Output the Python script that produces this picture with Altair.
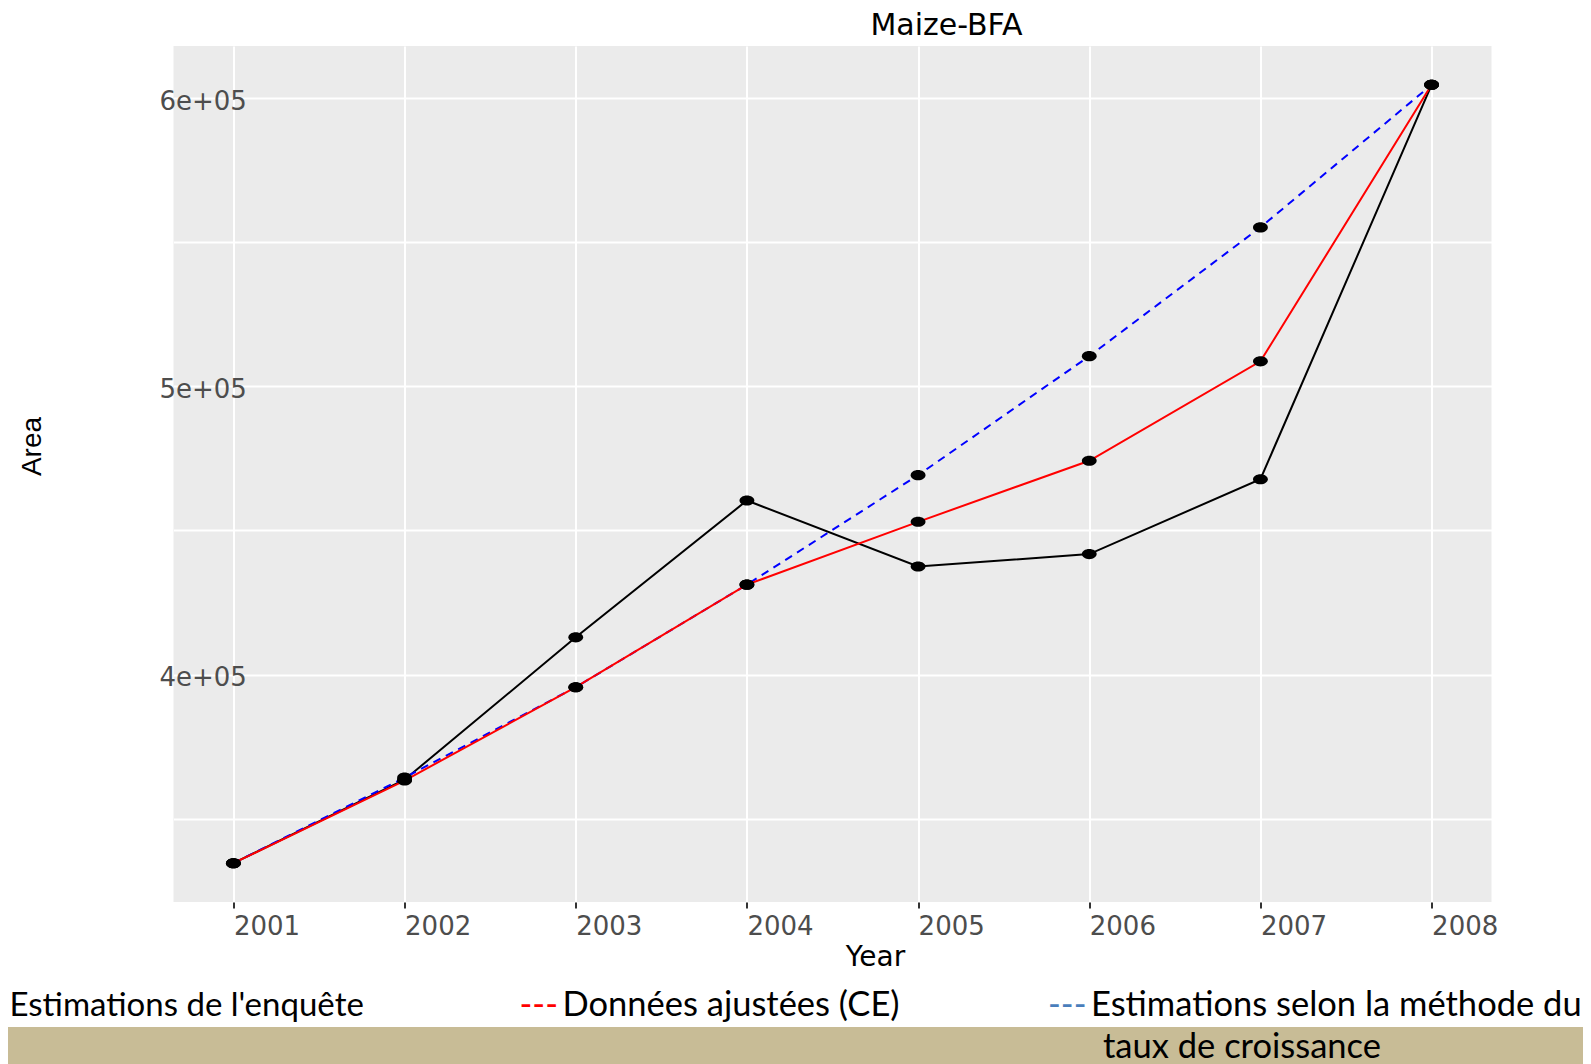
import altair as alt
import pandas as pd

years = [2001, 2002, 2003, 2004, 2005, 2006, 2007, 2008]
survey = [334500, 363500, 412900, 460400, 437500, 441800, 467800, 604700]
adjusted = [334500, 363200, 395600, 431200, 453000, 474200, 508700, 604700]
growth = [334500, 364200, 395600, 431200, 469200, 510500, 555200, 604700]

x_grid = [2001, 2001.5, 2002, 2002.5, 2003, 2003.5, 2004, 2004.5, 2005, 2005.5,
          2006, 2006.5, 2007, 2007.5, 2008]
y_grid = [350000, 400000, 450000, 500000, 550000, 600000]

legend_texts = ["Estimations de l'enquête", "Données ajustées (CE)",
                "Estimations selon la méthode du", "taux de croissance"]

frames = []
for name, vals in [("survey", survey), ("adjusted", adjusted), ("growth", growth)]:
    frames.append(pd.DataFrame({"year": years, "value": vals, "series": name}))
df = pd.concat(frames, ignore_index=True)

xs = alt.Scale(domain=[2000.65, 2008.35], nice=False, zero=False)
ys = alt.Scale(domain=[321040, 618160], nice=False, zero=False)

x_axis = alt.Axis(
    values=x_grid, grid=True, gridColor="white", gridWidth=2, domain=False,
    tickColor={"condition": {"test": "datum.value % 1 === 0", "value": "#333333"},
               "value": "transparent"},
    tickSize=6, tickWidth=2, format="d",
    labelExpr="datum.value % 1 === 0 ? datum.label : ''",
    labelAlign="left", labelBaseline="top", labelPadding=5,
    labelFont="DejaVu Sans", labelFontSize=26, labelColor="#4D4D4D",
    labelOverlap=False, labelFlush=False,
    title="Year", titleFont="DejaVu Sans", titleFontSize=28, titleColor="black",
    titleFontWeight="normal", titleX=701.5, titleY=55, titleAlign="center",
    titleBaseline="middle",
)
y_axis = alt.Axis(
    values=y_grid, grid=True, gridColor="white", gridWidth=2, domain=False,
    ticks=False, tickSize=0,
    labelExpr="datum.value % 100000 === 0 ? format(datum.value / 100000, 'd') + 'e+05' : ''",
    labelAlign="left", labelBaseline="middle", labelPadding=14.5, labelOffset=3,
    labelFont="DejaVu Sans", labelFontSize=26, labelColor="#4D4D4D",
    labelOverlap=False, labelFlush=False,
    title="Area", titleFont="Liberation Sans", titleFontSize=28, titleColor="black",
    titleFontWeight="normal", titleX=-141, titleY=400, titleAlign="center",
    titleBaseline="middle",
)

base = alt.Chart(df).encode(
    x=alt.X("year:Q", scale=xs, axis=x_axis),
    y=alt.Y("value:Q", scale=ys, axis=y_axis),
)

line_black = base.transform_filter(alt.datum.series == "survey").mark_line(
    color="black", strokeWidth=2)
line_blue = base.transform_filter(alt.datum.series == "growth").mark_line(
    color="#0000FF", strokeWidth=2, strokeDash=[8, 6])
line_red = base.transform_filter(alt.datum.series == "adjusted").mark_line(
    color="#FF0000", strokeWidth=2)

ellipse = "M -1 0 A 1 0.68 0 1 0 1 0 A 1 0.68 0 1 0 -1 0 Z"
points = base.mark_point(shape=ellipse, filled=True, color="black", opacity=1, size=220)

deco = pd.DataFrame({"a": [0]})
band = alt.Chart(deco).mark_rect(color="#C8BC96").encode(
    x=alt.value(-180), x2=alt.value(1425), y=alt.value(981), y2=alt.value(1020))

def txt(t, x, y, align="left", color="black", size=34.5):
    return alt.Chart(pd.DataFrame({"t": [t]})).mark_text(
        font="Lato", fontSize=size, align=align, baseline="alphabetic", color=color
    ).encode(text="t:N", x=alt.value(x), y=alt.value(y))

leg1 = txt(legend_texts[0], -164, 970, align="left", size=33)
dash_red = txt("---", 346, 970, color="#FF0000")
leg2 = txt(legend_texts[1], 389, 970)
dash_blue = txt("---", 874.5, 970, color="#4A7EBB")
leg3 = txt(legend_texts[2], 917.5, 970)
leg4 = txt(legend_texts[3], 929.5, 1012)

chart = alt.layer(
    line_black, line_blue, line_red, points,
    band, leg1, dash_red, leg2, dash_blue, leg3, leg4,
).properties(
    width=1318, height=856,
    title=alt.TitleParams("Maize-BFA", font="DejaVu Sans", fontSize=30,
                          fontWeight="normal", color="black", anchor="middle",
                          dx=114, offset=5),
    autosize=alt.AutoSizeParams(type="none"),
    padding={"left": 165.5, "top": 38, "right": 91.5, "bottom": 162},
).configure(
    background="white"
).configure_view(
    fill="#EBEBEB", stroke=None
)

chart.save("out.html", embed_options={"renderer": "svg", "actions": False})
